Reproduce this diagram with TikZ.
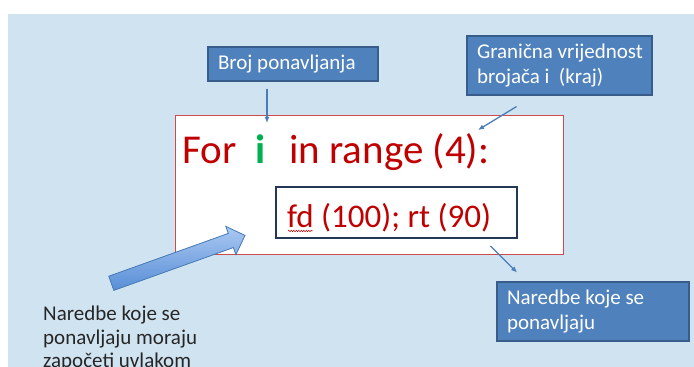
\documentclass[tikz,border=0pt]{standalone}
\usepackage{fontspec}
\setmainfont{Carlito}
\usetikzlibrary{positioning, arrows.meta, decorations.pathmorphing}

\definecolor{pozadina}{RGB}{208,227,241}
\definecolor{okvirplava}{RGB}{79,129,189}
\definecolor{rubplava}{RGB}{56,93,138}
\definecolor{strelica}{RGB}{74,126,187}
\definecolor{crvena}{RGB}{192,0,0}
\definecolor{rubcrveni}{RGB}{205,75,75}
\definecolor{zelena}{RGB}{0,176,80}
\definecolor{tamnoplava}{RGB}{36,55,85}
\definecolor{svijetla}{RGB}{170,200,242}
\definecolor{tamnija}{RGB}{88,142,214}

\tikzset{
  oblacic/.style={draw=rubplava, fill=okvirplava, line width=1.2pt, text=white,
    align=flush left, inner xsep=10pt, inner ysep=0pt, font=\fontsize{21}{25.5}\selectfont},
  pokazivac/.style={draw=strelica, line width=1.3pt, -{Latex[length=6pt,width=5pt]}},
  kod/.style={anchor=base west, inner sep=0pt, text=crvena},
}

\begin{document}
\begin{tikzpicture}[x=1pt, y=1pt]
\useasboundingbox (0,0) rectangle (694,367);
\fill[white] (0,0) rectangle (694,367);
\fill[pozadina] (8,0) rectangle (694,353);

% petlja i tijelo petlje
\node[draw=rubcrveni, fill=white, line width=1pt, minimum width=388pt, minimum height=139pt] (petlja) at (369,181.5) {};
\node[draw=tamnoplava, fill=white, line width=2.2pt, minimum width=241pt, minimum height=51pt] (tijelo) at (396.5,154.5) {};

\node[kod, font=\fontsize{41}{48}\selectfont] (forkw) at (182,203) {For};
\node[kod, text=zelena, font=\fontsize{41}{48}\selectfont\bfseries] (brojac) at (255,203) {i};
\node[kod, font=\fontsize{41}{48}\selectfont] (raspon) at (289,203) {in range (4):};
\node[kod, font=\fontsize{33}{40}\selectfont] (naredbe) at (287,139) {fd (100); rt (90)};
\draw[crvena, line width=0.5pt, decorate, decoration={snake, amplitude=0.7pt, segment length=2.5pt}]
  ([xshift=1pt,yshift=-3pt]naredbe.base west) -- ++(25,0);

% oblacici
\node[oblacic, minimum width=170pt, minimum height=34pt, text width=150pt] (broj) at (293,303) {Broj ponavljanja};
\node[oblacic, minimum width=185pt, minimum height=59pt, text width=165pt] (granica) at (559.5,301.5) {\mbox{Granična vrijednost}\\brojača i\ \ (kraj)};
\node[oblacic, minimum width=192pt, minimum height=59pt, text width=172pt] (ponavlja) at (593,55.5) {Naredbe koje se\\ponavljaju};

\node[anchor=base west, align=left, inner sep=0pt, text=black!85, font=\fontsize{21}{23.5}\selectfont] (uputa) at (43,-1)
  {Naredbe koje se\\ponavljaju moraju\\započeti uvlakom};

% debela strelica
\begin{scope}[shift={(111.3,83.7)}, rotate=19.7]
\coordinate (rep) at (0,0);
\coordinate (vrh) at (142,0);
\filldraw[draw=strelica, line width=0.8pt, top color=svijetla, bottom color=tamnija]
  (0,-7.5) -- (127,-7.5) -- (127,-15) -- (vrh) -- (127,15) -- (127,7.5) -- (0,7.5) -- cycle;
\end{scope}

% pokazivaci
\coordinate (brojvrh) at (267,244);
\coordinate (granvrh) at (478,237);
\draw[pokazivac, shorten <=7pt] (broj.south -| brojvrh) -- (brojvrh);
\draw[pokazivac, shorten <=21pt] ([xshift=-25pt]granica.south) -- (granvrh);
\draw[pokazivac, shorten <=10pt, shorten >=12.5pt] ([xshift=87pt]tijelo.south) -- ([xshift=-67pt]ponavlja.north);
\end{tikzpicture}
\end{document}
